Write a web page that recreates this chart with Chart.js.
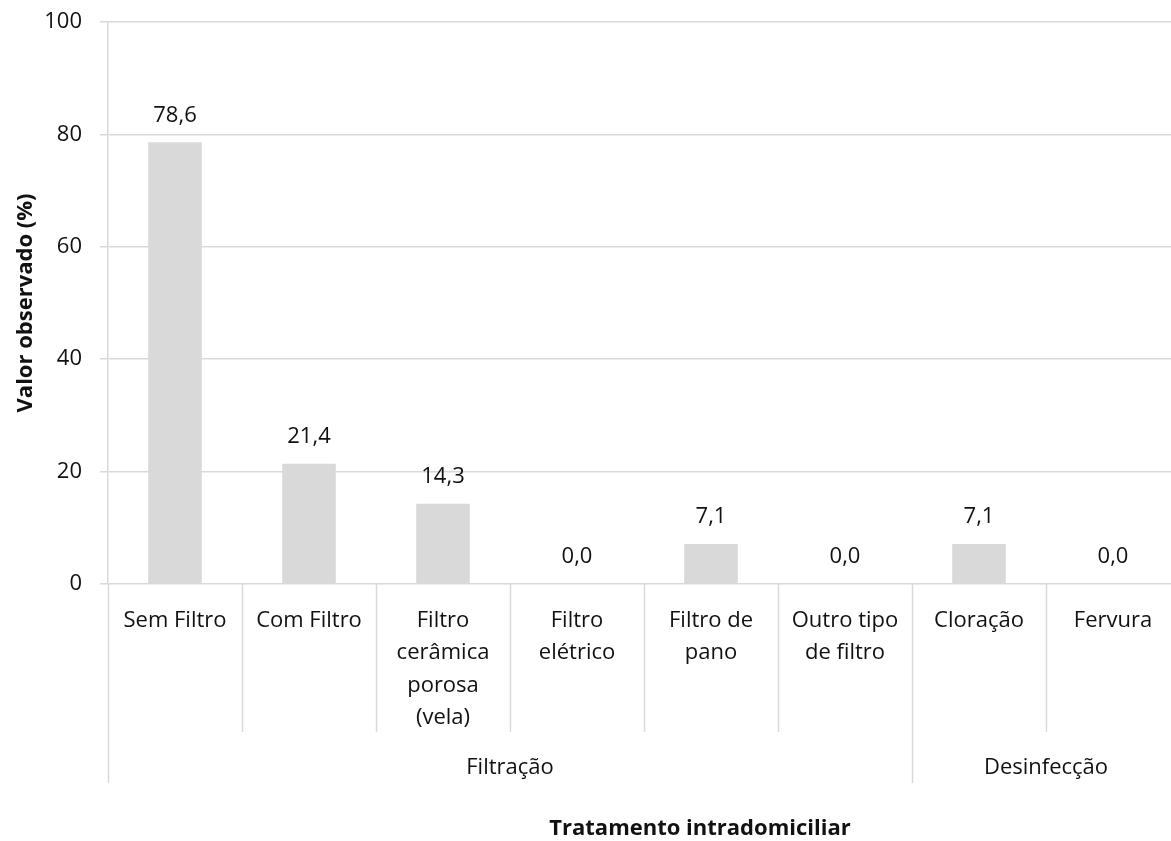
<!DOCTYPE html>
<html>
<head>
<meta charset="utf-8">
<script src="https://cdn.jsdelivr.net/npm/chart.js@4/dist/chart.umd.min.js"></script>
<style>
  html, body { margin: 0; padding: 0; background: #fff; overflow: hidden; }
  #wrap { position: absolute; left: 0; top: 0; width: 1190px; height: 841px; }
</style>
</head>
<body>
<div id="wrap"><canvas id="chart" width="1190" height="841"></canvas></div>
<script>
// categories (multi-line, as they wrap in the reference)
const categories = [
  ['Sem Filtro'],
  ['Com Filtro'],
  ['Filtro', 'cerâmica', 'porosa', '(vela)'],
  ['Filtro', 'elétrico'],
  ['Filtro de', 'pano'],
  ['Outro tipo', 'de filtro'],
  ['Cloração'],
  ['Fervura']
];
const values = [78.6, 21.4, 14.3, 0.0, 7.1, 0.0, 7.1, 0.0];
const groups = [
  { label: 'Filtração', from: 0, to: 5 },
  { label: 'Desinfecção', from: 6, to: 7 }
];
const yTicks = [0, 20, 40, 60, 80, 100];
const xTitle = 'Tratamento intradomiciliar';
const yTitle = 'Valor observado (%)';

const FONT = '"Open Sans", "Liberation Sans", sans-serif';
const TEXT = '#111';
const LINE = '#d9d9d9';

const fmt = v => v.toFixed(1).replace('.', ',');

const multiLevelAxis = {
  id: 'multiLevelAxis',
  afterDraw(chart) {
    const { ctx, chartArea, scales: { x } } = chart;
    const n = categories.length;
    const edge = i => i === 0 ? chartArea.left : i === n ? chartArea.right
      : (x.getPixelForValue(i - 1) + x.getPixelForValue(i)) / 2;
    const groupEdges = new Set([0, n, ...groups.map(g => g.from)]);
    ctx.save();
    ctx.strokeStyle = LINE;
    ctx.lineWidth = 1.5;
    for (let i = 0; i <= n; i++) {
      const px = Math.round(edge(i)) + 0.5;
      ctx.beginPath();
      ctx.moveTo(px, chartArea.bottom);
      ctx.lineTo(px, groupEdges.has(i) ? 783 : 732);
      ctx.stroke();
    }
    ctx.fillStyle = TEXT;
    ctx.font = `22px ${FONT}`;
    ctx.textAlign = 'center';
    ctx.textBaseline = 'middle';
    groups.forEach(g => {
      ctx.fillText(g.label, (edge(g.from) + edge(g.to + 1)) / 2, 768);
    });
    // value labels
    const meta = chart.getDatasetMeta(0);
    meta.data.forEach((bar, i) => {
      ctx.fillText(fmt(values[i]), bar.x, bar.y - 27);
    });
    // x axis title (Excel puts it a bit right of centre)
    ctx.font = `bold 22px ${FONT}`;
    ctx.fillText(xTitle, 700, 829);
    ctx.restore();
  }
};

new Chart(document.getElementById('chart'), {
  type: 'bar',
  data: {
    labels: categories,
    datasets: [{
      data: values,
      backgroundColor: LINE,
      barPercentage: 0.4,
      categoryPercentage: 1.0
    }]
  },
  options: {
    responsive: false,
    animation: false,
    events: [],
    layout: { padding: { left: 0, top: 22, right: 10, bottom: 0 } },
    plugins: { legend: { display: false }, tooltip: { enabled: false } },
    scales: {
      x: {
        afterFit: s => { s.height = 257; },
        grid: { display: false, drawTicks: false },
        border: { display: false },
        ticks: {
          autoSkip: false, maxRotation: 0, minRotation: 0,
          padding: 20,
          color: TEXT,
          font: { family: FONT, size: 22, lineHeight: 1.48 }
        }
      },
      y: {
        min: 0, max: 100,
        afterFit: s => { s.width = 108; s.paddingTop = 0; s.paddingBottom = 0; },
        afterBuildTicks: s => { s.ticks = yTicks.map(v => ({ value: v })); },
        grid: { color: LINE, lineWidth: 1.5, tickLength: 8, drawTicks: true },
        border: { display: true, color: LINE, width: 1.5 },
        ticks: {
          padding: 18,
          color: TEXT,
          font: { family: FONT, size: 22 }
        },
        title: {
          display: true,
          text: yTitle,
          color: TEXT,
          font: { family: FONT, size: 22, weight: 'bold' },
          padding: { top: 13, bottom: 0 }
        }
      }
    }
  },
  plugins: [multiLevelAxis]
});
</script>
</body>
</html>
